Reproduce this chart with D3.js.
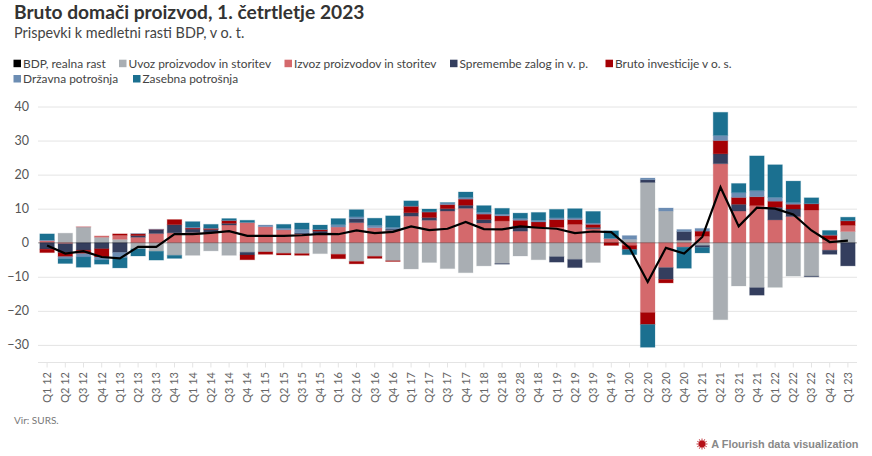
<!DOCTYPE html>
<html>
<head>
<meta charset="utf-8">
<script src="https://cdn.jsdelivr.net/npm/d3@7"></script>
<style>
	html, body {margin: 0; padding: 0; background: #fff; width: 872px; height: 456px; overflow: hidden;}
	text {font-family: "Lato", sans-serif;}
	.axis path {display: none;}
</style>
</head>
<body>
<div id="chart"></div>
<script>
let quarters = [
	"Q1 12","Q2 12","Q3 12","Q4 12","Q1 13","Q2 13","Q3 13","Q4 13","Q1 14","Q2 14","Q3 14","Q4 14",
	"Q1 15","Q2 15","Q3 15","Q4 15","Q1 16","Q2 16","Q3 16","Q4 16","Q1 17","Q2 17","Q3 17","Q4 17",
	"Q1 18","Q2 18","Q3 28","Q4 18","Q1 19","Q2 19","Q3 19","Q4 19","Q1 20","Q2 20","Q3 20","Q4 20",
	"Q1 21","Q2 21","Q3 21","Q4 21","Q1 22","Q2 22","Q3 22","Q4 22","Q1 23"
]
let yTicks = [40, 30, 20, 10, 0, -10, -20, -30]

let gdp = [-0.8,-3.2,-2.5,-4.2,-4.6,-1.2,-1.2,2.5,2.5,2.9,3.4,2.0,2.0,2.0,2.2,2.6,2.5,3.6,2.8,3.2,4.8,3.7,4.1,6.1,4.0,3.9,4.8,4.4,4.1,2.8,3.3,3.1,-1.5,-11.5,-1.5,-3.2,1.7,16.3,4.8,10.3,10.0,8.3,3.6,0.2,0.6]

let imports = [0,2.8,4.6,1.6,1.0,-1.8,-2.5,-3.7,-3.7,-2.4,-3.7,-2.8,-2.7,-3.1,-3.2,-3.2,-3.4,-5.5,-4.0,-5.3,-7.7,-5.8,-7.6,-8.8,-6.8,-6.1,-3.9,-5.0,-4.1,-4.9,-5.8,0,1.0,17.7,9.3,0.7,-0.8,-22.6,-12.7,-13.2,-13.1,-9.8,-9.8,0,3.3]
let exports = [0.6,-0.3,0.1,0.4,1.2,1.6,2.7,2.9,3.0,3.0,5.2,5.9,4.7,3.8,2.6,2.4,4.6,5.9,4.4,3.6,7.8,6.6,9.3,10.1,5.8,6.4,3.4,4.6,4.6,5.4,4.1,1.2,-0.8,-20.5,-7.3,-1.3,1.9,23.2,9.3,10.9,6.7,7.7,9.6,-2.2,1.8]
// Q4 22 shows the export colour on both sides of zero
let exportsAboveZero = [0,0,0,0,0,0,0,0,0,0,0,0,0,0,0,0,0,0,0,0,0,0,0,0,0,0,0,0,0,0,0,0,0,0,0,0,0,0,0,0,0,0,0,0.9,0]
let inventories = [-1.9,-2.6,-2.2,-1.8,-2.9,0.5,1.1,2.4,1.0,0.9,0.5,-0.8,0,0,0.3,1.0,0,1.1,0,0.4,1.0,0.8,0.7,0.9,1.0,-0.2,1.5,0,-1.6,-2.4,0.4,0,0,0.8,-3.5,2.6,-0.6,2.9,2.0,-2.2,3.7,2.2,-0.2,-1.2,-6.8]
let investment = [-1.0,-1.2,-1.0,-2.4,0.4,0.5,0.1,1.5,0.3,0.3,0.8,-1.4,-0.7,-0.5,-0.5,0.4,-1.3,-0.7,-0.6,-0.2,1.9,1.6,1.2,1.8,1.6,1.5,1.7,1.5,2.2,1.4,0.9,-0.8,-1.2,-3.5,-1.0,0,1.5,3.9,2.0,2.6,1.8,1.4,1.8,1.3,1.3]
let government = [0.2,-0.6,-1.0,-0.8,-1.5,0.1,0.1,0,0.3,0.1,0.1,0.1,0.5,0.5,1.1,0.1,0.7,0.6,0.7,0.5,0.1,0.1,0.5,0.5,0.5,0.5,0.5,0.5,0.5,0.5,0.4,0.1,1.1,0.5,0.9,0.6,0.8,1.5,1.4,1.8,1.1,0.5,0.1,0.1,0.1]
let household = [1.8,-1.4,-3.0,-1.3,-3.0,-2.1,-2.6,-0.9,1.6,1.1,0.5,0.6,0,1.1,1.8,1.3,1.8,2.1,2.1,3.4,1.5,0.8,0.1,1.6,2.0,1.7,1.6,2.3,2.5,2.7,3.4,2.2,-1.5,-6.7,0,-6.2,-1.6,6.8,2.7,10.2,9.6,6.3,1.7,1.3,1.0]

let seriesNames = ["Uvoz proizvodov in storitev","Izvoz proizvodov in storitev","Izvoz nad ničlo","Spremembe zalog in v. p.","Bruto investicije v o. s.","Državna potrošnja","Zasebna potrošnja"]
let seriesValues = [imports, exports, exportsAboveZero, inventories, investment, government, household]
let seriesColors = ["#a9aeb3","#d4696c","#d4696c","#343e5e","#a50004","#6c8db3","#1b7090"]

let dimensions = {width: 872, height: 456, margin: {left: 38, top: 106.5, bottom: 93.5, right: 15}}

let svg = d3.select("#chart")
	.append("svg")
	.attr("width", dimensions.width)
	.attr("height", dimensions.height)

let xScale = d3.scaleBand()
	.domain(quarters)
	.range([dimensions.margin.left, dimensions.width - dimensions.margin.right])
	.paddingInner(0.2)
	.paddingOuter(0.1)
let yScale = d3.scaleLinear()
	.domain([-30, 40])
	.range([344.9, 106.5])

// titles
svg.append("text").attr("x", 14).attr("y", 19).attr("font-size", 19.2).attr("font-weight", 700).attr("fill", "#333").text("Bruto domači proizvod, 1. četrtletje 2023")
svg.append("text").attr("x", 14).attr("y", 38).attr("font-size", 14.4).attr("fill", "#444").text("Prispevki k medletni rasti BDP, v o. t.")

// legend
let legendItems = [
	{name: "BDP, realna rast", color: "#000", x: 13.5, y: 63.7},
	{name: seriesNames[0], color: seriesColors[0], x: 119, y: 63.7},
	{name: seriesNames[1], color: seriesColors[1], x: 284.5, y: 63.7},
	{name: seriesNames[3], color: seriesColors[3], x: 450, y: 63.7},
	{name: seriesNames[4], color: seriesColors[4], x: 605.5, y: 63.7},
	{name: seriesNames[5], color: seriesColors[5], x: 13.5, y: 79},
	{name: seriesNames[6], color: seriesColors[6], x: 133, y: 79}
]
let legend = svg.append("g").selectAll("g").data(legendItems).enter().append("g")
	.attr("transform", d => `translate(${d.x},${d.y})`)
legend.append("rect").attr("x", 0).attr("y", -4).attr("width", 7.5).attr("height", 7.5).attr("fill", d => d.color)
legend.append("text").attr("x", 9.5).attr("y", 4.2).attr("font-size", 11.9).attr("fill", "#444").text(d => d.name)

// axes
let yAxis = d3.axisLeft(yScale).tickValues(yTicks).tickSize(-(dimensions.width - dimensions.margin.left - dimensions.margin.right)).tickPadding(9)
let yG = svg.append("g").classed("axis", true).attr("transform", `translate(${dimensions.margin.left},0)`).call(yAxis)
yG.selectAll("line").attr("stroke", "#e4e4e4")
yG.selectAll("text").attr("font-size", 12.5).attr("fill", "#555")

let xAxis = d3.axisBottom(xScale).tickSize(5).tickPadding(4)
let xG = svg.append("g").classed("axis", true).attr("transform", "translate(0,362.5)").call(xAxis)
xG.selectAll("line").attr("stroke", "#e4e4e4")
xG.selectAll("text")
	.attr("font-size", 11).attr("fill", "#666")
	.attr("text-anchor", "end")
	.attr("dx", "-9.5").attr("dy", "0.35em")
	.attr("transform", "rotate(-90)")
	.attr("y", 0)
	.attr("x", 0)
svg.append("line").attr("x1", dimensions.margin.left).attr("x2", dimensions.width - dimensions.margin.right).attr("y1", 362.5).attr("y2", 362.5).attr("stroke", "#e4e4e4")

// stacked bars
let table = quarters.map((q, i) => {
	let row = {quarter: q}
	seriesNames.forEach((name, s) => { row[name] = seriesValues[s][i] })
	return row
})
let stacked = d3.stack().keys(seriesNames).offset(d3.stackOffsetDiverging)(table)

svg.append("g").selectAll("g")
	.data(stacked)
	.enter().append("g")
	.attr("fill", (d, i) => seriesColors[i])
	.attr("stroke", (d, i) => seriesColors[i])
	.attr("stroke-opacity", 0.25)
	.selectAll("rect")
	.data(d => d)
	.enter().append("rect")
	.attr("x", d => xScale(d.data.quarter))
	.attr("width", xScale.bandwidth())
	.attr("y", d => yScale(Math.max(d[0], d[1])))
	.attr("height", d => Math.abs(yScale(d[0]) - yScale(d[1])))

// zero line sits on top of the bars
svg.append("line")
	.attr("x1", dimensions.margin.left).attr("x2", dimensions.width - dimensions.margin.right)
	.attr("y1", yScale(0)).attr("y2", yScale(0))
	.attr("stroke", "#000").attr("stroke-opacity", 0.3).attr("stroke-width", 1)

let line = d3.line()
	.x((d, i) => xScale(quarters[i]) + xScale.bandwidth() / 2)
	.y(d => yScale(d))
svg.append("path").datum(gdp).attr("d", line).attr("fill", "none").attr("stroke", "#000").attr("stroke-width", 2.2)

// footer
svg.append("text").attr("x", 14).attr("y", 424).attr("font-size", 10).attr("fill", "#777").text("Vir: SURS.")
let logo = svg.append("g").attr("transform", "translate(702,444)")
logo.append("circle").attr("r", 3.4).attr("fill", "#b5121b")
logo.selectAll("line").data(d3.range(12)).enter().append("line")
	.attr("x2", d => 5.5 * Math.cos(d * Math.PI / 6)).attr("y2", d => 5.5 * Math.sin(d * Math.PI / 6))
	.attr("stroke", "#b5121b").attr("stroke-width", 0.8)
svg.append("text").attr("x", 858.5).attr("y", 448).attr("text-anchor", "end").attr("font-size", 10.9).attr("font-weight", 700)
	.attr("fill", "#888").style("font-family", "'Liberation Sans', Arial, sans-serif").text("A Flourish data visualization")
</script>
</body>
</html>
